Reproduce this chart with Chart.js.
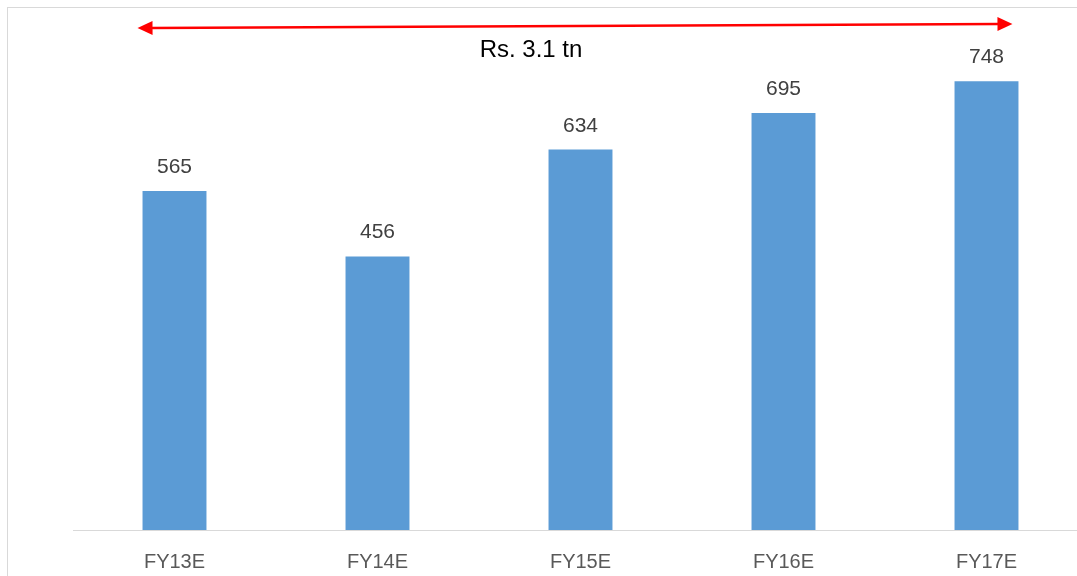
<!DOCTYPE html>
<html>
<head>
<meta charset="utf-8">
<script src="https://cdn.jsdelivr.net/npm/chart.js@4/dist/chart.umd.min.js"></script>
<style>
    html, body { margin: 0; padding: 0; background: #fff; overflow: hidden; }
    #wrap { position: relative; width: 1077px; height: 576px; overflow: hidden; }
    #frame { position: absolute; left: 7px; top: 7px; right: -5px; bottom: -5px; border: 1px solid #d9d9d9; }
    canvas { position: absolute; left: 0; top: 0; }
</style>
</head>
<body>
<div id="wrap">
    <div id="frame"></div>
    <canvas id="chart" width="1100" height="576"></canvas>
</div>
<script>
// Data
const categories = ['FY13E', 'FY14E', 'FY15E', 'FY16E', 'FY17E'];
const values = [565, 456, 634, 695, 748];
const arrowLabel = 'Rs. 3.1 tn';

// value labels above each bar
const barLabels = {
    id: 'barLabels',
    afterDatasetsDraw(chart) {
        const ctx = chart.ctx;
        const meta = chart.getDatasetMeta(0);
        ctx.save();
        ctx.font = '21px "Liberation Sans", Arial, sans-serif';
        ctx.fillStyle = '#404040';
        ctx.textAlign = 'center';
        ctx.textBaseline = 'alphabetic';
        meta.data.forEach((bar, i) => {
            ctx.fillText(values[i], bar.x, bar.y - 18);
        });
        ctx.restore();
    }
};

// red double-headed arrow spanning all bars + total label
const spanArrow = {
    id: 'spanArrow',
    afterDraw(chart) {
        const ctx = chart.ctx;
        const bars = chart.getDatasetMeta(0).data;
        const first = bars[0], last = bars[bars.length - 1];
        const x1 = first.x - first.width / 2 - 5, y1 = 28;
        const x2 = last.x + last.width / 2 - 6, y2 = 24;
        const head = 15, half = 7;

        ctx.save();
        ctx.strokeStyle = '#ff0000';
        ctx.fillStyle = '#ff0000';
        ctx.lineWidth = 2.5;
        ctx.beginPath();
        ctx.moveTo(x1 + head - 2, y1);
        ctx.lineTo(x2 - head + 2, y2);
        ctx.stroke();

        const ang = Math.atan2(y2 - y1, x2 - x1);
        function arrowHead(x, y, dir) {
            ctx.beginPath();
            ctx.moveTo(x, y);
            ctx.lineTo(x - dir * head * Math.cos(ang) - half * Math.sin(ang), y - dir * head * Math.sin(ang) + half * Math.cos(ang));
            ctx.lineTo(x - dir * head * Math.cos(ang) + half * Math.sin(ang), y - dir * head * Math.sin(ang) - half * Math.cos(ang));
            ctx.closePath();
            ctx.fill();
        }
        arrowHead(x1, y1, -1);
        arrowHead(x2, y2, 1);

        ctx.font = '24px "Liberation Sans", Arial, sans-serif';
        ctx.fillStyle = '#000000';
        ctx.textAlign = 'center';
        ctx.textBaseline = 'alphabetic';
        ctx.fillText(arrowLabel, 531, 57);
        ctx.restore();
    }
};

new Chart(document.getElementById('chart'), {
    type: 'bar',
    data: {
        labels: categories,
        datasets: [{
            data: values,
            backgroundColor: '#5b9bd5',
            borderWidth: 0,
            categoryPercentage: 1,
            barPercentage: 0.315
        }]
    },
    options: {
        responsive: false,
        animation: false,
        devicePixelRatio: 1,
        layout: { padding: { left: 73, right: 12, top: 5, bottom: 0 } },
        plugins: {
            legend: { display: false },
            tooltip: { enabled: false }
        },
        scales: {
            x: {
                grid: { display: false, drawTicks: false },
                border: { display: true, color: '#d9d9d9', width: 1 },
                ticks: {
                    color: '#595959',
                    font: { family: '"Liberation Sans", Arial, sans-serif', size: 20 },
                    padding: 20
                },
                afterFit(scale) { scale.height = 46; }
            },
            y: {
                display: false,
                min: 0,
                max: 875
            }
        }
    },
    plugins: [barLabels, spanArrow]
});
</script>
</body>
</html>
